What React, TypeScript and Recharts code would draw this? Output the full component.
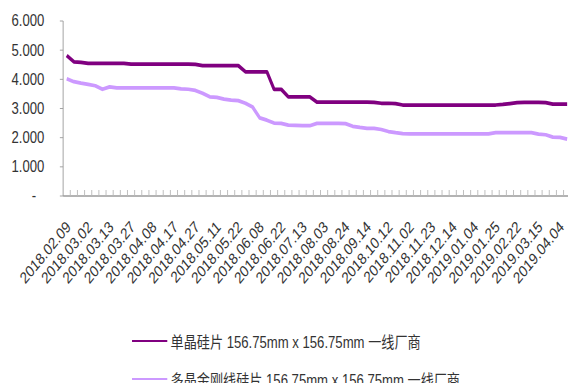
import React from 'react';
import { LineChart, Line, XAxis, YAxis, Legend } from 'recharts';

// weekly quote dates (every third one is labelled on the axis)
const dates = [
  '2018.02.09', '2018.02.14', '2018.02.23', '2018.03.02', '2018.03.06', '2018.03.09',
  '2018.03.13', '2018.03.16', '2018.03.20', '2018.03.27', '2018.03.30', '2018.04.03',
  '2018.04.08', '2018.04.11', '2018.04.13', '2018.04.17', '2018.04.20', '2018.04.24',
  '2018.04.27', '2018.05.04', '2018.05.08', '2018.05.11', '2018.05.15', '2018.05.18',
  '2018.05.22', '2018.05.25', '2018.06.01', '2018.06.08', '2018.06.13', '2018.06.15',
  '2018.06.22', '2018.06.29', '2018.07.06', '2018.07.13', '2018.07.20', '2018.07.27',
  '2018.08.03', '2018.08.10', '2018.08.17', '2018.08.24', '2018.08.31', '2018.09.07',
  '2018.09.14', '2018.09.21', '2018.09.28', '2018.10.12', '2018.10.19', '2018.10.26',
  '2018.11.02', '2018.11.09', '2018.11.16', '2018.11.23', '2018.11.30', '2018.12.07',
  '2018.12.14', '2018.12.21', '2018.12.28', '2019.01.04', '2019.01.11', '2019.01.18',
  '2019.01.25', '2019.02.01', '2019.02.15', '2019.02.22', '2019.03.01', '2019.03.08',
  '2019.03.15', '2019.03.22', '2019.03.29', '2019.04.04', '2019.04.12',
];

// 单晶硅片, 元/片
const monoWafer = [
  4.82, 4.6, 4.58, 4.55, 4.55, 4.55, 4.55, 4.55, 4.55, 4.52,
  4.52, 4.52, 4.52, 4.52, 4.52, 4.52, 4.52, 4.52, 4.51, 4.47,
  4.47, 4.47, 4.47, 4.47, 4.47, 4.26, 4.26, 4.26, 4.26, 3.66,
  3.66, 3.4, 3.4, 3.4, 3.4, 3.22, 3.22, 3.22, 3.22, 3.22,
  3.22, 3.22, 3.22, 3.21, 3.18, 3.18, 3.17, 3.12, 3.12, 3.12,
  3.12, 3.12, 3.12, 3.12, 3.12, 3.12, 3.12, 3.12, 3.12, 3.12,
  3.12, 3.14, 3.17, 3.2, 3.21, 3.21, 3.21, 3.2, 3.15, 3.15,
  3.15,
];

// 多晶金刚线硅片, 元/片
const multiWafer = [
  4.02, 3.92, 3.87, 3.83, 3.78, 3.66, 3.74, 3.71, 3.71, 3.71,
  3.71, 3.71, 3.71, 3.71, 3.71, 3.71, 3.67, 3.66, 3.62, 3.52,
  3.4, 3.38, 3.32, 3.29, 3.27, 3.18, 3.05, 2.68, 2.6, 2.5,
  2.49, 2.43, 2.42, 2.41, 2.41, 2.49, 2.49, 2.49, 2.49, 2.48,
  2.39, 2.35, 2.32, 2.32, 2.28, 2.21, 2.17, 2.14, 2.13, 2.13,
  2.13, 2.13, 2.13, 2.13, 2.13, 2.13, 2.13, 2.13, 2.13, 2.13,
  2.17, 2.17, 2.17, 2.17, 2.17, 2.17, 2.12, 2.1, 2.02, 2.01,
  1.95,
];

const yTicks = [0, 1, 2, 3, 4, 5, 6];

const MONO_NAME = '单晶硅片 156.75mm x 156.75mm 一线厂商';
const MULTI_NAME = '多晶金刚线硅片 156.75mm x 156.75mm 一线厂商';

const data = dates.map((date, i) => ({
  date,
  mono: monoWafer[i],
  multi: multiWafer[i],
}));

// the chart is laid out wide and then squeezed horizontally
const SQUEEZE = 0.82;
const CHART_W = 700;
const CHART_H = 383;
const PLOT_LEFT = 77;
const PLOT_RIGHT = 696;
const BAND = (PLOT_RIGHT - PLOT_LEFT) / dates.length;
const FONT = '"Liberation Sans", Arial, "Noto Sans CJK SC", sans-serif';
const AXIS_GREY = '#9a9a9a';

const DateTick = (props: any) => {
  const { x, y, index, payload } = props;
  const edge = x + BAND / 2;
  return (
    <g>
      <line x1={edge} y1={y} x2={edge} y2={y - 6} stroke="#b8b8b8" />
      {index % 3 === 0 && (
        <text
          transform={`translate(${x + 6},${y + 32}) rotate(-45)`}
          textAnchor="end"
          fontSize={16}
          fontFamily={FONT}
          fill="#333"
        >
          {payload.value}
        </text>
      )}
    </g>
  );
};

const ValueTick = (props: any) => {
  const { x, y, payload } = props;
  const zero = payload.value === 0;
  return (
    <text
      x={zero ? x - 10 : x}
      y={y}
      textAnchor="end"
      dominantBaseline="central"
      fontSize={16}
      fontFamily={FONT}
      fill="#333"
    >
      {zero ? '-' : payload.value.toFixed(3)}
    </text>
  );
};

const LegendRows = (props: any) => {
  const items = props.payload || [];
  return (
    <div style={{ position: 'relative', width: CHART_W, height: CHART_H }}>
      {items.map((item: any, i: number) => (
        <div
          key={item.value}
          style={{
            position: 'absolute',
            left: 161,
            top: 331 + i * 38,
            height: 20,
            display: 'flex',
            alignItems: 'center',
            whiteSpace: 'nowrap',
          }}
        >
          <span style={{ display: 'inline-block', width: 43, height: 2.5, background: item.color, marginRight: 4 }} />
          <span style={{ fontSize: 16, fontFamily: FONT, color: '#333' }}>{item.value}</span>
        </div>
      ))}
    </div>
  );
};

export default function App() {
  return (
    <div
      style={{
        position: 'absolute',
        left: 0,
        top: 0,
        width: 568,
        height: 383,
        overflow: 'hidden',
        background: '#fff',
        fontFamily: FONT,
      }}
    >
      <div style={{ width: CHART_W, height: CHART_H, transform: `scaleX(${SQUEEZE})`, transformOrigin: '0 0' }}>
        <LineChart
          width={CHART_W}
          height={CHART_H}
          data={data}
          margin={{ top: 21, right: CHART_W - PLOT_RIGHT, left: 0, bottom: 0 }}
        >
          <XAxis
            dataKey="date"
            interval={0}
            height={187}
            tickSize={0}
            tickMargin={0}
            tickLine={false}
            padding={{ left: BAND / 2, right: BAND / 2 }}
            axisLine={{ stroke: AXIS_GREY, strokeWidth: 1.5 }}
            tick={<DateTick />}
          />
          <YAxis
            width={PLOT_LEFT}
            domain={[0, 6]}
            ticks={yTicks}
            interval={0}
            tickSize={4}
            tickMargin={19}
            axisLine={{ stroke: AXIS_GREY }}
            tickLine={{ stroke: AXIS_GREY }}
            tick={<ValueTick />}
          />
          <Legend
            layout="vertical"
            align="center"
            verticalAlign="middle"
            wrapperStyle={{ left: 0, top: 0, width: CHART_W, height: CHART_H }}
            content={<LegendRows />}
          />
          <Line
            type="linear"
            dataKey="mono"
            name={MONO_NAME}
            stroke="#800080"
            strokeWidth={3.75}
            strokeLinejoin="round"
            dot={false}
            isAnimationActive={false}
          />
          <Line
            type="linear"
            dataKey="multi"
            name={MULTI_NAME}
            stroke="#cc99ff"
            strokeWidth={3.75}
            strokeLinejoin="round"
            dot={false}
            isAnimationActive={false}
          />
        </LineChart>
      </div>
    </div>
  );
}
